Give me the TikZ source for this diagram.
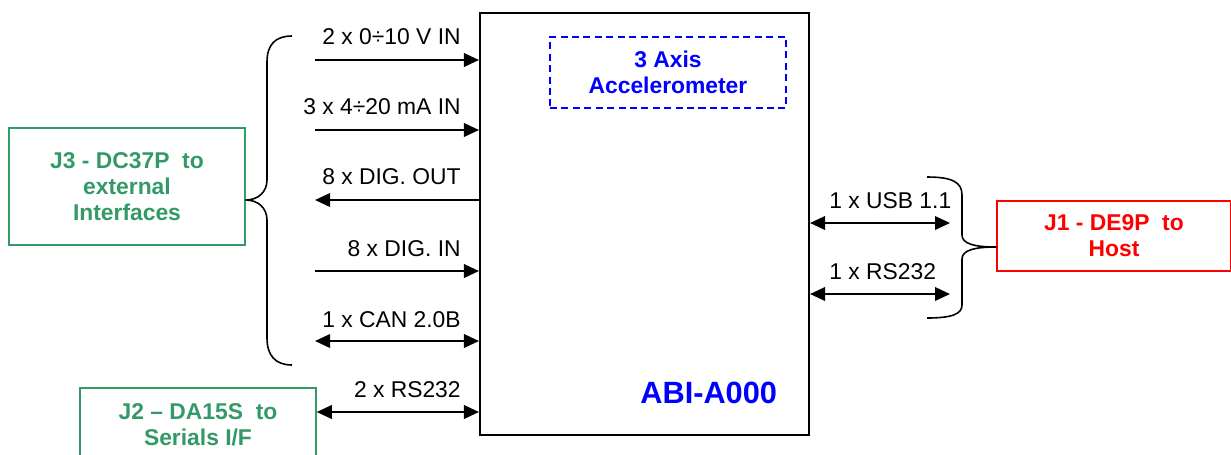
\documentclass[tikz,border=0pt]{standalone}
\usepackage{fontspec}
\setmainfont{Liberation Sans}
\usetikzlibrary{arrows.meta,positioning}
\definecolor{jgreen}{RGB}{51,153,102}

\begin{document}
\begin{tikzpicture}[x=0.02cm,y=-0.02cm,
  lbl/.style={font=\fontsize{13}{15}\selectfont,inner sep=0pt},
  sig/.style={line width=1.2pt,-{Triangle[length=0.3cm,width=0.27cm]}},
  bisig/.style={line width=1.2pt,{Triangle[length=0.3cm,width=0.27cm]}-{Triangle[length=0.3cm,width=0.27cm]}},
  conn/.style={shape=rectangle,draw,line width=0.9pt,align=center,font=\fontsize{13}{14.7}\selectfont\bfseries},
  brace/.style={line width=0.9pt}]

\useasboundingbox (0,0) rectangle (1231,454);
\clip (0,0) rectangle (1231,454);

\node[shape=rectangle,draw,line width=1.2pt,minimum width=6.58cm,minimum height=8.44cm] (abi) at (644.5,224) {};
\node[conn,draw=blue,text=blue,line width=1.1pt,dash pattern=on 4pt off 2.5pt,minimum width=4.72cm,minimum height=1.42cm] (acc) at (668,72.5) {3 Axis\\Accelerometer};
\node[font=\fontsize{17.5}{20}\selectfont\bfseries,text=blue,inner sep=0pt,anchor=base west] (abiname) at (640,403) {ABI-A000};

\node[conn,draw=jgreen,text=jgreen,minimum width=4.72cm,minimum height=2.34cm] (J3) at (127,186.5) {J3 - DC37P~ to\\external\\Interfaces};
\node[conn,draw=jgreen,text=jgreen,minimum width=4.72cm,minimum height=1.48cm] (J2) at (198,425) {J2 -- DA15S~ to\\Serials I/F};
\node[conn,draw=red,text=red,minimum width=4.68cm,minimum height=1.4cm] (J1) at (1114,236) {J1 - DE9P~ to\\Host};

\node[lbl,anchor=base east] (l1) at (461,44) {2 x 0÷10 V IN};
\node[lbl,anchor=base east] (l2) at (461,114) {3 x 4÷20 mA IN};
\node[lbl,anchor=base east] (l3) at (461,184) {8 x DIG. OUT};
\node[lbl,anchor=base east] (l4) at (461,256) {8 x DIG. IN};
\node[lbl,anchor=base east] (l5) at (461,327) {1 x CAN 2.0B};
\node[lbl,anchor=base east] (l6) at (461,397) {2 x RS232};
\node[lbl,anchor=base west] (r1) at (829,208) {1 x USB 1.1};
\node[lbl,anchor=base west] (r2) at (829,279) {1 x RS232};

\coordinate (a1) at (315,60);
\coordinate (a2) at (315,130);
\coordinate (a3) at (315,200);
\coordinate (a4) at (315,271);
\coordinate (a5) at (315,341);
\coordinate (s2) at ([yshift=0.26cm]J2.east);
\coordinate (h1) at (950,223);
\coordinate (h2) at (950,294);

\draw[sig] (a1) -- (a1 -| abi.west);
\draw[sig] (a2) -- (a2 -| abi.west);
\draw[sig] (a3 -| abi.west) -- (a3);
\draw[sig] (a4) -- (a4 -| abi.west);
\draw[bisig] (a5) -- (a5 -| abi.west);
\draw[bisig] (s2) -- (s2 -| abi.west);
\draw[bisig] (h1 -| abi.east) -- (h1);
\draw[bisig] (h2 -| abi.east) -- (h2);

\draw[brace] (292,36) .. controls (275,36) and (267,45) .. (267,62) -- (267,180)
  .. controls (267,192) and (258,200) .. (J3.east |- 0,200)
  .. controls (258,200) and (267,208) .. (267,220) -- (267,338)
  .. controls (267,355) and (275,365) .. (292,365);
\draw[brace] (927,177) .. controls (952,177) and (962,182) .. (962,195) -- (962,235)
  .. controls (962,244) and (975,247) .. (J1.west |- 0,247)
  .. controls (975,247) and (962,250) .. (962,259) -- (962,305)
  .. controls (962,314) and (952,318) .. (927,318);
\end{tikzpicture}
\end{document}
